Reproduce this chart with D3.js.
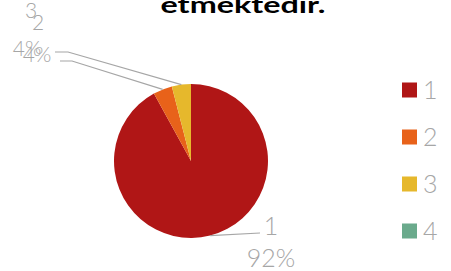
<!DOCTYPE html>
<html>
<head>
<meta charset="utf-8">
<script src="https://cdn.jsdelivr.net/npm/d3@7"></script>
<style>
  body { margin: 0; background: #fff; }
  text { font-family: Lato, "Open Sans", sans-serif; }
</style>
</head>
<body>
<svg id="chart"></svg>
<script>
// donnees
const categories = ['1', '2', '3', '4'];
const values = [92, 4, 4, 0];
const colors = ['#b01616', '#e8621a', '#e6b82c', '#6aaa8c'];
const titleLine = 'etmektedir.';

const width = 451, height = 271;
const cx = 191, cy = 161, r = 77;

const svg = d3.select('#chart')
    .attr('width', width)
    .attr('height', height);

// titre (les premieres lignes sont hors cadre)
svg.append('text')
    .attr('x', 243)
    .attr('y', 13)
    .attr('text-anchor', 'middle')
    .attr('font-family', '"DejaVu Sans", sans-serif')
    .attr('font-weight', 'bold')
    .attr('font-size', 22)
    .attr('textLength', 165)
    .attr('lengthAdjust', 'spacingAndGlyphs')
    .attr('fill', '#000')
    .text(titleLine);

const data = categories.map((c, i) => ({ name: c, value: values[i], color: colors[i] }));
const total = d3.sum(values);

const pie = d3.pie().sort(null).value(d => d.value);
const arc = d3.arc().innerRadius(0).outerRadius(r);
const edgeArc = d3.arc().innerRadius(r).outerRadius(r);

const g = svg.append('g').attr('transform', `translate(${cx},${cy})`);
const arcs = pie(data);

g.selectAll('path')
    .data(arcs)
    .join('path')
    .attr('d', arc)
    .attr('fill', d => d.data.color);

// mise en page des etiquettes (coude, fin de ligne, texte) relative au centre
const labelLayout = {
    '1': { elbow: null, end: [69, 72], name: [80, 74], pct: [80, 106], size: 25 },
    '2': { elbow: [-119, -100], end: [-131, -100], name: [-153, -131], pct: [-154, -99], size: 21 },
    '3': { elbow: [-123, -109], end: [-136, -109], name: [-160, -143], pct: [-164, -105], size: 21 }
};

const labelled = arcs.filter(d => d.data.value > 0);
const lab = g.append('g');

labelled.forEach(d => {
    const L = labelLayout[d.data.name];
    const p0 = edgeArc.centroid(d);
    const pts = [p0];
    if (L.elbow) pts.push(L.elbow);
    pts.push(L.end);
    lab.append('polyline')
        .attr('points', pts.map(p => p.join(',')).join(' '))
        .attr('fill', 'none')
        .attr('stroke', '#a6a6a6')
        .attr('stroke-width', 1.2);
    lab.append('text')
        .attr('x', L.name[0]).attr('y', L.name[1])
        .attr('text-anchor', 'middle')
        .attr('font-size', L.size)
        .attr('font-weight', 300)
        .attr('fill', '#a6a6a6')
        .text(d.data.name);
    lab.append('text')
        .attr('x', L.pct[0]).attr('y', L.pct[1])
        .attr('text-anchor', 'middle')
        .attr('font-size', L.size)
        .attr('font-weight', 300)
        .attr('fill', '#a6a6a6')
        .text(Math.round(d.data.value / total * 100) + '%');
});

// legende
const ly = d3.scalePoint().domain(categories).range([90, 231]);
const legend = svg.append('g')
    .selectAll('g')
    .data(data)
    .join('g')
    .attr('transform', d => `translate(402,${ly(d.name)})`);

legend.append('rect')
    .attr('x', 0).attr('y', -7.5)
    .attr('width', 15).attr('height', 15)
    .attr('fill', d => d.color);

legend.append('text')
    .attr('x', 21).attr('y', 9)
    .attr('font-size', 25)
    .attr('font-weight', 300)
    .attr('fill', '#a6a6a6')
    .text(d => d.name);
</script>
</body>
</html>
